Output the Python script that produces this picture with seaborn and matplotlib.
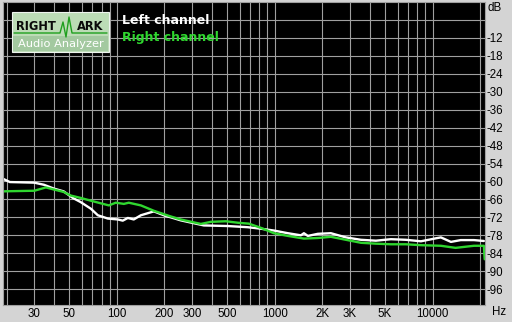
import numpy as np
import pandas as pd
import seaborn as sns
import matplotlib
matplotlib.use("Agg")
import matplotlib.pyplot as plt
from matplotlib.patches import Rectangle
from matplotlib.lines import Line2D

# ---------------- data ----------------
left_freq = [19, 21, 30, 34.5, 40, 46, 52.6, 59, 68.4, 75.8, 87.7, 101.5, 109, 117.4,
             128, 142, 171.6, 198.6, 254, 356, 505, 676, 817, 988, 1212, 1466, 1532,
             1622, 1878, 2270, 2827, 3518, 4379, 5451, 6786, 8447, 10514, 11302,
             13077, 15096, 18300, 21150]
left_db = [-59.1, -60.2, -60.4, -61.1, -62.4, -63.3, -65.5, -66.9, -69.1, -71.3, -72.4,
           -72.7, -73.1, -72.2, -72.7, -71.3, -70.0, -71.3, -73.0, -74.7, -74.9, -75.3,
           -75.8, -76.4, -77.3, -78.0, -77.3, -78.2, -77.5, -77.3, -78.7, -79.5, -79.8,
           -79.3, -79.5, -80.0, -79.0, -78.7, -80.2, -79.6, -79.6, -79.9]

right_freq = [19, 30, 35.5, 40, 46, 51, 59, 71.5, 89, 98.5, 110.8, 119, 142, 171.6,
              213.6, 254, 340.6, 394, 490.6, 584.6, 686, 817, 988, 1212, 1532, 1878,
              2270, 2827, 3518, 4379, 5451, 6786, 8447, 11302, 14000, 18300, 21150, 21400]
right_db = [-63.3, -63.1, -62.0, -62.7, -63.5, -64.7, -65.5, -66.7, -68.0, -67.1, -67.5,
            -67.1, -68.0, -69.8, -71.5, -72.7, -74.2, -73.5, -73.3, -73.8, -74.1, -75.5,
            -77.3, -78.2, -79.1, -78.9, -78.5, -79.5, -80.5, -80.8, -81.0, -81.0, -81.3,
            -81.5, -82.2, -81.5, -81.5, -86.0]

series_names = ["Left channel", "Right channel"]
series_colors = ["#ffffff", "#2fd62f"]

grid_freqs = [20, 30, 40, 50, 60, 70, 80, 90, 100, 200, 300, 400, 500, 600, 700, 800,
              900, 1000, 2000, 3000, 4000, 5000, 6000, 7000, 8000, 9000, 10000, 20000]
labeled_freqs = [30, 50, 100, 200, 300, 500, 1000, 2000, 3000, 5000, 10000]
freq_labels = ["30", "50", "100", "200", "300", "500", "1000", "2K", "3K", "5K", "10000"]

db_grid = [-6, -12, -18, -24, -30, -36, -42, -48, -54, -60, -66, -72, -78, -84, -90, -96]
db_labels = ["", "-12", "-18", "-24", "-30", "-36", "-42", "-48", "-54", "-60", "-66",
             "-72", "-78", "-84", "-90", "-96"]

# ---------------- plot ----------------
sns.set_theme(style="dark")
plt.rcParams['font.family'] = ['Liberation Sans', 'DejaVu Sans']

W, H = 512, 322
fig = plt.figure(figsize=(W / 100, H / 100), dpi=100)
bg = "#d4d4d4"
fig.patch.set_facecolor(bg)
ax = fig.add_axes([3 / W, 17 / H, 482 / W, 303 / H])
ax.set_facecolor("#000000")

df = pd.concat([
    pd.DataFrame({"freq": left_freq, "db": left_db, "ch": series_names[0]}),
    pd.DataFrame({"freq": right_freq, "db": right_db, "ch": series_names[1]}),
])
sns.lineplot(data=df, x="freq", y="db", hue="ch", palette=series_colors,
             hue_order=series_names, ax=ax, linewidth=1.7, legend=False,
             sort=False, estimator=None)

ax.set_xscale("log")
ax.set_xlim(19, 21500)
ax.set_ylim(-101.3, 0)

ax.set_xticks(grid_freqs)
lab_map = dict(zip(labeled_freqs, freq_labels))
ax.set_xticklabels([lab_map.get(f, "") for f in grid_freqs])
ax.xaxis.set_minor_locator(matplotlib.ticker.NullLocator())
ax.set_yticks(db_grid)
ax.set_yticklabels(db_labels)
ax.yaxis.tick_right()

ax.grid(True, color="#a0a0a0", linewidth=0.8)
ax.tick_params(axis="both", length=0, labelsize=8.3, colors="#000000")
ax.tick_params(axis="x", pad=2)
ax.tick_params(axis="y", pad=1)
for lbl in ax.get_yticklabels():
    lbl.set_horizontalalignment("left")
for s in ax.spines.values():
    s.set_color("#a0a0a0")
    s.set_linewidth(0.8)
ax.set_xlabel("")
ax.set_ylabel("")

def fx(px):
    return px / W

def fy(py):
    return 1 - py / H

fig.text(fx(487), fy(8), "dB", fontsize=8.3, color="black", va="center", ha="left")
fig.text(fx(492), fy(312), "Hz", fontsize=8.3, color="black", va="center", ha="left")

# logo
fig.patches.append(Rectangle((fx(12), fy(52)), 97 / W, 40 / H, transform=fig.transFigure,
                             facecolor="#bcdcb6", edgecolor="#eef4ee", linewidth=0.8, zorder=5))
fig.patches.append(Rectangle((fx(13), fy(51)), 95 / W, 15 / H, transform=fig.transFigure,
                             facecolor="#a3c9a0", edgecolor="none", zorder=5))
fig.lines.append(Line2D([fx(14), fx(60), fx(63), fx(66), fx(69), fx(72), fx(75), fx(107)],
                        [fy(33), fy(33), fy(22), fy(37), fy(17), fy(33), fy(33), fy(33)],
                        transform=fig.transFigure, color="#1fa01f", linewidth=1.0, zorder=6))
fig.text(fx(16), fy(27), "RIGHT", fontsize=8.3, fontweight="bold", color="#0a0a0a",
         family="DejaVu Sans", va="center", ha="left", zorder=7)
fig.text(fx(77), fy(27), "ARK", fontsize=8.3, fontweight="bold", color="#0a0a0a",
         family="DejaVu Sans", va="center", ha="left", zorder=7)
fig.text(fx(61), fy(44), "Audio Analyzer", fontsize=8.2, color="#ffffff",
         family="DejaVu Sans", va="center", ha="center", zorder=7)

fig.text(fx(122), fy(21), series_names[0], fontsize=9, fontweight="bold",
         family="DejaVu Sans", color=series_colors[0], va="center", ha="left")
fig.text(fx(122), fy(38), series_names[1], fontsize=9, fontweight="bold",
         family="DejaVu Sans", color=series_colors[1], va="center", ha="left")

fig.savefig("out.png", dpi=100, facecolor=fig.get_facecolor())
